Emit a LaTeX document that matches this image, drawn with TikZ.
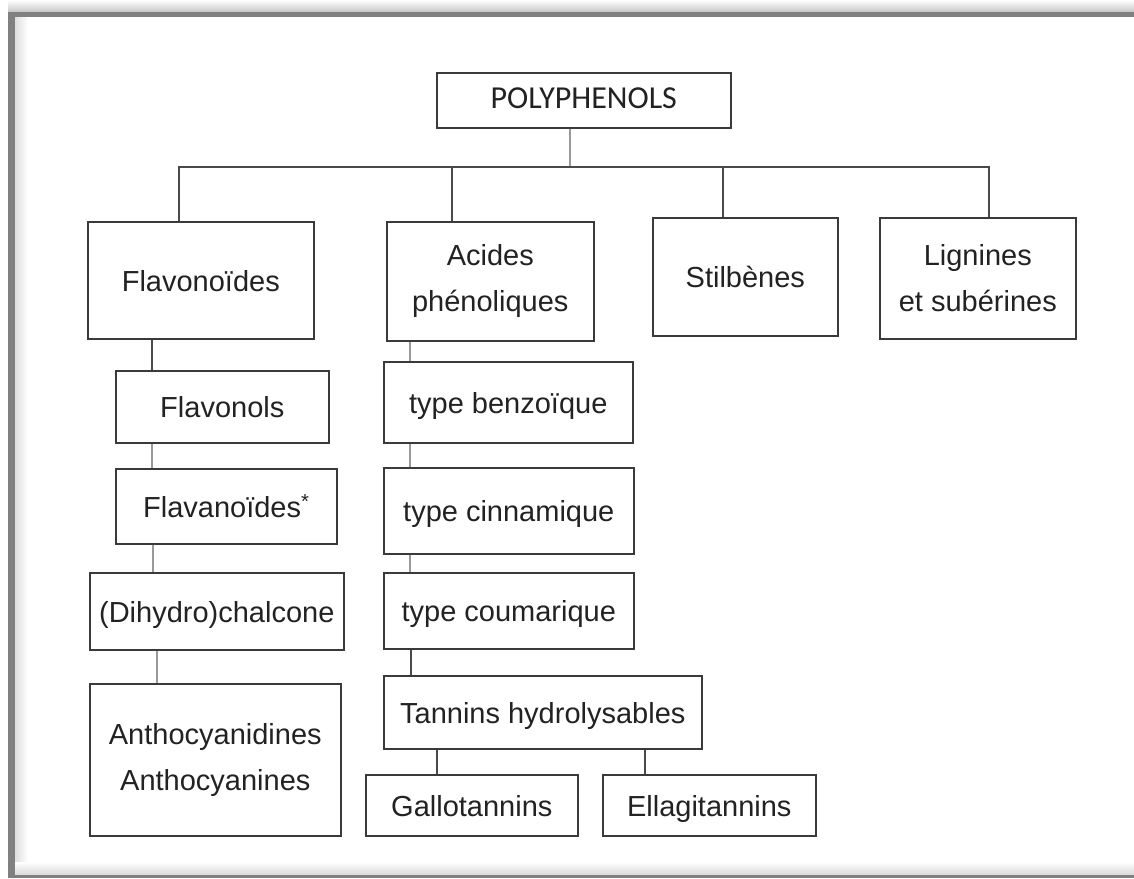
\documentclass[tikz,border=0pt]{standalone}
\usepackage{fontspec}
\setmainfont{Liberation Sans}
\newfontfamily\calfont{Carlito}
\definecolor{framegray}{HTML}{808080}
\definecolor{boxline}{HTML}{3A3A3A}
\definecolor{linkline}{HTML}{4A4A4A}
\definecolor{txt}{HTML}{222222}
\begin{document}
\begin{tikzpicture}[x=1pt,y=-1pt,
  box/.style={draw=boxline, line width=1.6pt, rectangle, inner sep=0pt, align=center,
    text=txt, font=\fontsize{29}{46}\selectfont, anchor=north west},
  oneline/.style={box, text height=25pt, text depth=3pt},
  link/.style={draw=linkline, line width=1.4pt},
  lightlink/.style={draw=gray!80, line width=1.2pt}]
\useasboundingbox (0,0) rectangle (1134,878);
\fill[white] (0,0) rectangle (1134,878);
% frame and shadow
\shade[top color=white, bottom color=gray!45] (8,0) rectangle (1134,12);
\shade[left color=gray!25, right color=white] (15,17) rectangle (28,875);
\shade[top color=white, bottom color=gray!30] (15,862) rectangle (1134,875);
\fill[framegray] (8,12) rectangle (1134,17);
\fill[framegray] (8,12) rectangle (15,878);
\fill[framegray] (8,875) rectangle (1134,878);

% nodes
\node[box, minimum width=294pt, minimum height=55pt, text height=21pt, text depth=5pt, font=\calfont\fontsize{32}{40}\selectfont] (poly) at (436,72) {POLYPHENOLS};
\node[oneline, minimum width=226pt, minimum height=117pt] (flav) at (87,221) {Flavonoïdes};
\node[box, minimum width=207pt, minimum height=119pt] (acid) at (386,221) {Acides\\phénoliques};
\node[oneline, minimum width=185pt, minimum height=118pt] (stil) at (652,217) {Stilbènes};
\node[box, minimum width=196pt, minimum height=121pt] (lign) at (879,217) {Lignines\\et subérines};

\node[oneline, minimum width=213pt, minimum height=72pt] (flavol) at (115,370) {Flavonols};
\node[oneline, minimum width=221pt, minimum height=75pt] (flavan) at (115,468) {Flavanoïdes\textsuperscript{*}};
\node[oneline, minimum width=254pt, minimum height=77pt] (chalc) at (89,572) {(Dihydro)chalcone};
\node[box, minimum width=251pt, minimum height=152pt] (antho) at (89,683) {Anthocyanidines\\Anthocyanines};

\node[oneline, minimum width=249pt, minimum height=81pt] (benz) at (383,361) {type benzoïque};
\node[oneline, minimum width=250pt, minimum height=86pt] (cinn) at (383,467) {type cinnamique};
\node[oneline, minimum width=250pt, minimum height=76pt] (coum) at (383,572) {type coumarique};
\node[oneline, minimum width=318pt, minimum height=73pt] (tann) at (383,675) {Tannins hydrolysables};
\node[oneline, minimum width=212pt, minimum height=61pt] (gallo) at (365,774) {Gallotannins};
\node[oneline, minimum width=213pt, minimum height=61pt] (ellag) at (602,774) {Ellagitannins};

% bus
\coordinate (bus) at (570,167);
\draw[lightlink] (poly.south -| bus) -- (bus);
\draw[link] (flav.north -| 179,0) -- (179,167) -- (989,167) -- (lign.north -| 989,0);
\draw[link] (bus -| 452,0) -- (acid.north -| 452,0);
\draw[link] (bus -| 723,0) -- (stil.north -| 723,0);

% left column
\draw[link] (flav.south -| 152,0) -- (flavol.north -| 152,0);
\draw[lightlink] (flavol.south -| 152,0) -- (flavan.north -| 152,0);
\draw[lightlink] (flavan.south -| 153,0) -- (chalc.north -| 153,0);
\draw[lightlink] (chalc.south -| 157,0) -- (antho.north -| 157,0);

% middle column
\draw[lightlink] (acid.south -| 410,0) -- (benz.north -| 410,0);
\draw[lightlink] (benz.south -| 410,0) -- (cinn.north -| 410,0);
\draw[lightlink] (cinn.south -| 410,0) -- (coum.north -| 410,0);
\draw[link] (coum.south -| 411,0) -- (tann.north -| 411,0);
\draw[link] (tann.south -| 437,0) -- (gallo.north -| 437,0);
\draw[link] (tann.south -| 645,0) -- (ellag.north -| 645,0);
\end{tikzpicture}
\end{document}
